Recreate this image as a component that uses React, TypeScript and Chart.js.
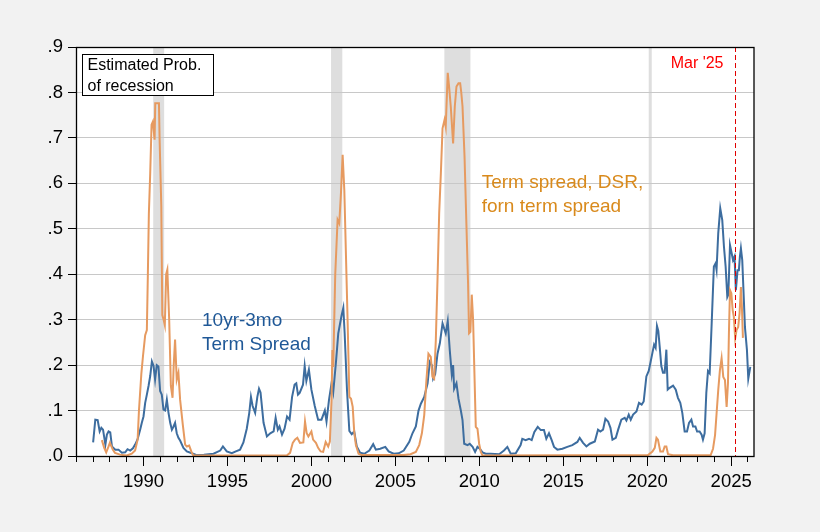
import React, { useEffect, useRef } from "react";
import { Chart, registerables } from "chart.js";

Chart.register(...registerables);

// ---- data (decimal years, probabilities) ----
const spreadYears = [1987.0,1987.13,1987.27,1987.39,1987.49,1987.59,1987.73,1987.82,1987.92,1988.02,1988.12,1988.32,1988.51,1988.71,1988.91,1989.05,1989.21,1989.37,1989.5,1989.64,1989.8,1989.9,1990.0,1990.1,1990.2,1990.3,1990.4,1990.5,1990.6,1990.69,1990.79,1990.89,1990.99,1991.09,1991.19,1991.29,1991.39,1991.49,1991.59,1991.69,1991.79,1991.88,1991.98,1992.08,1992.18,1992.38,1992.58,1992.88,1993.17,1993.6,1994.17,1994.57,1994.73,1994.96,1995.26,1995.5,1995.75,1995.95,1996.15,1996.3,1996.4,1996.5,1996.65,1996.78,1996.88,1996.97,1997.15,1997.35,1997.55,1997.75,1997.87,1998.0,1998.1,1998.25,1998.4,1998.55,1998.7,1998.85,1999.0,1999.1,1999.2,1999.3,1999.5,1999.6,1999.7,1999.85,2000.0,2000.2,2000.4,2000.6,2000.8,2000.9,2001.05,2001.2,2001.3,2001.47,2001.6,2001.7,2001.8,2001.9,2001.98,2002.12,2002.26,2002.4,2002.55,2002.7,2002.9,2003.15,2003.45,2003.68,2003.84,2004.1,2004.4,2004.6,2004.9,2005.2,2005.5,2005.83,2006.02,2006.22,2006.38,2006.52,2006.72,2006.92,2007.05,2007.17,2007.25,2007.37,2007.51,2007.65,2007.81,2007.91,2008.0,2008.12,2008.24,2008.36,2008.44,2008.5,2008.64,2008.76,2008.9,2009.0,2009.1,2009.3,2009.43,2009.6,2009.75,2009.89,2010.03,2010.19,2010.38,2010.68,2011.18,2011.47,2011.67,2011.87,2012.17,2012.46,2012.56,2012.76,2012.96,2013.12,2013.28,2013.48,2013.66,2013.85,2013.99,2014.15,2014.31,2014.45,2014.65,2014.95,2015.24,2015.54,2015.84,2015.98,2016.18,2016.38,2016.58,2016.88,2017.07,2017.21,2017.37,2017.51,2017.67,2017.81,2017.93,2018.13,2018.27,2018.46,2018.66,2018.76,2018.9,2019.02,2019.16,2019.36,2019.51,2019.67,2019.79,2019.95,2020.09,2020.19,2020.31,2020.41,2020.5,2020.58,2020.66,2020.74,2020.84,2020.94,2021.04,2021.14,2021.22,2021.34,2021.54,2021.7,2021.83,2021.97,2022.09,2022.23,2022.37,2022.49,2022.63,2022.73,2022.87,2022.97,2023.12,2023.24,2023.32,2023.42,2023.52,2023.62,2023.72,2023.84,2023.97,2024.07,2024.13,2024.23,2024.35,2024.47,2024.57,2024.67,2024.77,2024.83,2024.93,2025.03,2025.11,2025.2,2025.28,2025.38,2025.46,2025.52,2025.58,2025.66,2025.74,2025.82,2025.94,2026.02,2026.14];
const spreadProb = [0.03,0.08,0.079,0.054,0.062,0.058,0.025,0.047,0.054,0.052,0.021,0.014,0.014,0.007,0.008,0.015,0.012,0.017,0.025,0.036,0.058,0.073,0.087,0.117,0.135,0.154,0.176,0.208,0.198,0.168,0.2,0.197,0.143,0.135,0.102,0.1,0.124,0.095,0.073,0.058,0.065,0.073,0.05,0.04,0.034,0.018,0.01,0.006,0.002,0.003,0.005,0.012,0.021,0.01,0.006,0.01,0.014,0.03,0.06,0.095,0.13,0.11,0.095,0.13,0.148,0.14,0.073,0.043,0.05,0.054,0.084,0.058,0.065,0.047,0.06,0.087,0.08,0.13,0.157,0.16,0.135,0.139,0.157,0.198,0.165,0.19,0.146,0.11,0.08,0.08,0.1,0.076,0.124,0.16,0.14,0.21,0.27,0.29,0.31,0.326,0.27,0.145,0.055,0.048,0.054,0.021,0.007,0.005,0.012,0.026,0.014,0.016,0.02,0.01,0.005,0.006,0.012,0.031,0.05,0.065,0.1,0.115,0.13,0.16,0.207,0.2,0.17,0.18,0.225,0.248,0.292,0.28,0.27,0.297,0.233,0.18,0.2,0.148,0.16,0.126,0.1,0.079,0.027,0.024,0.027,0.02,0.009,0.02,0.016,0.008,0.005,0.005,0.004,0.012,0.02,0.005,0.006,0.024,0.038,0.035,0.038,0.035,0.053,0.064,0.057,0.057,0.038,0.05,0.035,0.02,0.014,0.016,0.02,0.024,0.031,0.04,0.029,0.021,0.027,0.032,0.058,0.054,0.058,0.082,0.076,0.062,0.036,0.04,0.058,0.08,0.084,0.078,0.091,0.08,0.091,0.098,0.117,0.113,0.12,0.175,0.187,0.205,0.227,0.245,0.238,0.286,0.275,0.242,0.198,0.183,0.183,0.234,0.146,0.15,0.155,0.146,0.128,0.117,0.095,0.054,0.054,0.073,0.08,0.065,0.065,0.054,0.054,0.047,0.036,0.05,0.139,0.187,0.182,0.292,0.417,0.424,0.41,0.49,0.545,0.519,0.461,0.417,0.35,0.355,0.464,0.446,0.431,0.439,0.365,0.409,0.409,0.439,0.457,0.431,0.358,0.284,0.233,0.17,0.196];

const dsrYears = [1987.52,1987.66,1987.78,1987.92,1988.0,1988.17,1988.3,1988.6,1989.0,1989.3,1989.5,1989.65,1989.73,1989.87,1989.97,1990.1,1990.2,1990.26,1990.32,1990.4,1990.48,1990.56,1990.66,1990.7,1990.92,1990.96,1991.06,1991.12,1991.2,1991.27,1991.35,1991.42,1991.53,1991.63,1991.73,1991.8,1991.88,1991.98,1992.08,1992.18,1992.34,1992.48,1992.58,1992.72,1992.88,1992.97,1998.53,1998.73,1998.89,1999.02,1999.16,1999.32,1999.52,1999.62,1999.72,1999.82,2000.0,2000.1,2000.27,2000.4,2000.55,2000.7,2000.85,2001.0,2001.1,2001.2,2001.25,2001.3,2001.42,2001.56,2001.66,2001.76,2001.86,2001.96,2002.06,2002.16,2002.26,2002.36,2002.46,2002.55,2002.65,2002.81,2003.0,2005.5,2005.9,2006.22,2006.42,2006.58,2006.72,2006.85,2006.97,2007.11,2007.21,2007.31,2007.41,2007.51,2007.61,2007.71,2007.81,2007.93,2008.0,2008.12,2008.2,2008.3,2008.44,2008.54,2008.64,2008.76,2008.86,2008.92,2009.0,2009.12,2009.23,2009.33,2009.39,2009.47,2009.55,2009.63,2009.71,2009.79,2009.89,2009.99,2010.09,2010.19,2020.05,2020.31,2020.45,2020.55,2020.64,2020.78,2020.94,2021.04,2021.14,2021.24,2021.54,2023.78,2023.92,2024.04,2024.13,2024.23,2024.33,2024.43,2024.53,2024.63,2024.73,2024.81,2024.87,2024.93,2025.01,2025.09,2025.16,2025.24,2025.32,2025.42,2025.5,2025.58,2025.64,2025.7];
const dsrProb = [0.035,0.018,0.008,0.021,0.029,0.014,0.007,0.003,0.001,0.005,0.012,0.036,0.1,0.18,0.22,0.266,0.277,0.4,0.534,0.622,0.729,0.736,0.696,0.776,0.776,0.696,0.55,0.31,0.3,0.288,0.4,0.41,0.3,0.154,0.128,0.2,0.256,0.168,0.183,0.124,0.069,0.025,0.021,0.023,0.007,0.001,0.001,0.007,0.029,0.036,0.04,0.029,0.03,0.076,0.05,0.043,0.054,0.036,0.029,0.018,0.01,0.009,0.031,0.021,0.032,0.124,0.233,0.196,0.4,0.52,0.512,0.578,0.663,0.585,0.439,0.292,0.13,0.126,0.108,0.053,0.024,0.005,0.002,0.002,0.004,0.009,0.024,0.05,0.09,0.167,0.225,0.218,0.174,0.17,0.255,0.387,0.534,0.622,0.721,0.74,0.725,0.843,0.813,0.769,0.688,0.769,0.813,0.82,0.82,0.802,0.769,0.659,0.512,0.38,0.27,0.273,0.355,0.3,0.181,0.064,0.06,0.027,0.009,0.001,0.002,0.01,0.018,0.04,0.036,0.01,0.01,0.021,0.021,0.004,0.0015,0.002,0.016,0.046,0.093,0.145,0.189,0.215,0.174,0.167,0.108,0.16,0.277,0.365,0.358,0.321,0.306,0.259,0.277,0.284,0.314,0.372,0.328,0.26];

const recessionStarts = [1990.58, 2001.17, 2007.92, 2020.09];
const recessionEnds = [1991.23, 2001.84, 2009.47, 2020.27];

const yearTicks = [1986,1987,1988,1989,1990,1991,1992,1993,1994,1995,1996,1997,1998,1999,2000,2001,2002,2003,2004,2005,2006,2007,2008,2009,2010,2011,2012,2013,2014,2015,2016,2017,2018,2019,2020,2021,2022,2023,2024,2025,2026];
const probTicks = [0,0.1,0.2,0.3,0.4,0.5,0.6,0.7,0.8,0.9];
const markerYear = 2025.21;

const FONT = "'Liberation Sans', Arial, sans-serif";
const BLUE = "#3d6d9f";
const ORANGE = "#e69a60";

const decor = {
  id: "decor",
  beforeDraw(chart: any) {
    const { ctx, chartArea: a, scales } = chart;
    ctx.save();
    ctx.fillStyle = "#f2f2f2";
    ctx.fillRect(0, 0, chart.width, chart.height);
    ctx.fillStyle = "#ffffff";
    ctx.fillRect(a.left, a.top, a.right - a.left, a.bottom - a.top);
    ctx.fillStyle = "#dedede";
    recessionStarts.forEach((s, i) => {
      const x1 = scales.x.getPixelForValue(s);
      const x2 = scales.x.getPixelForValue(recessionEnds[i]);
      ctx.fillRect(x1, a.top, x2 - x1, a.bottom - a.top);
    });
    ctx.restore();
  },
  afterDraw(chart: any) {
    const { ctx, chartArea: a, scales } = chart;
    ctx.save();
    // marker line
    const mx = Math.round(scales.x.getPixelForValue(markerYear)) + 0.5;
    ctx.strokeStyle = "#e00000";
    ctx.lineWidth = 1;
    ctx.setLineDash([5, 3]);
    ctx.beginPath();
    ctx.moveTo(mx, a.top);
    ctx.lineTo(mx, a.bottom);
    ctx.stroke();
    ctx.setLineDash([]);
    // frame
    ctx.strokeStyle = "#000";
    ctx.lineWidth = 1.3;
    ctx.strokeRect(a.left + 0.5, a.top + 0.5, a.right - a.left - 0.5, a.bottom - a.top);
    // major ticks
    ctx.lineWidth = 1;
    yearTicks.forEach((y) => {
      if (y % 5 === 0) {
        const px = Math.round(scales.x.getPixelForValue(y)) + 0.5;
        ctx.beginPath();
        ctx.moveTo(px, a.bottom);
        ctx.lineTo(px, a.bottom + 10);
        ctx.stroke();
      }
    });
    // legend box
    ctx.fillStyle = "#fff";
    ctx.fillRect(a.left + 6, a.top + 7, 132, 42);
    ctx.strokeRect(a.left + 6.5, a.top + 7.5, 131, 41);
    ctx.fillStyle = "#000";
    ctx.font = `16px ${FONT}`;
    ctx.textAlign = "left";
    ctx.textBaseline = "alphabetic";
    ctx.fillText("Estimated Prob.", a.left + 11.5, a.top + 23);
    ctx.fillText("of recession", a.left + 11.5, a.top + 43.5);
    // Mar '25
    ctx.fillStyle = "#ff0000";
    ctx.textAlign = "right";
    ctx.fillText("Mar '25", mx - 12, a.top + 21);
    // series labels
    ctx.textAlign = "left";
    ctx.font = `19px ${FONT}`;
    ctx.fillStyle = "#d98a1c";
    ctx.fillText("Term spread, DSR,", 481.7, 188.3);
    ctx.fillText("forn term spread", 481.7, 212);
    ctx.fillStyle = "#1f5897";
    ctx.fillText("10yr-3mo", 202, 326);
    ctx.fillText("Term Spread", 202, 350);
    ctx.restore();
  },
};

export default function App() {
  const ref = useRef<HTMLCanvasElement>(null);
  useEffect(() => {
    const canvas = ref.current;
    if (!canvas) return;
    const chart = new Chart(canvas, {
      type: "line",
      data: {
        datasets: [
          {
            label: "Term spread, DSR, forn term spread",
            data: dsrYears.map((x, i) => ({ x, y: dsrProb[i] })),
            borderColor: ORANGE,
            borderWidth: 2,
            pointRadius: 0,
            tension: 0,
            fill: false,
          },
          {
            label: "10yr-3mo Term Spread",
            data: spreadYears.map((x, i) => ({ x, y: spreadProb[i] })),
            borderColor: BLUE,
            borderWidth: 2,
            pointRadius: 0,
            tension: 0,
            fill: false,
          },
        ],
      },
      options: {
        animation: false,
        responsive: false,
        devicePixelRatio: 1,
        layout: { padding: { left: 0, top: 47, right: 66, bottom: 0 } },
        plugins: { legend: { display: false }, tooltip: { enabled: false } },
        scales: {
          x: {
            type: "linear",
            min: 1985.98,
            max: 2026.36,
            afterBuildTicks: (scale: any) => {
              scale.ticks = yearTicks.map((v) => ({ value: v }));
            },
            afterFit: (scale: any) => {
              scale.height = 76;
            },
            border: { display: false },
            grid: { drawOnChartArea: false, drawTicks: true, tickLength: 6, tickColor: "#000" },
            ticks: {
              autoSkip: false,
              maxRotation: 0,
              padding: 9,
              color: "#000",
              font: { family: FONT, size: 18.5 },
              callback: (v: any) => (Number(v) % 5 === 0 ? String(v) : ""),
            },
          },
          y: {
            type: "linear",
            min: 0,
            max: 0.9,
            afterBuildTicks: (scale: any) => {
              scale.ticks = probTicks.map((v) => ({ value: v }));
            },
            afterFit: (scale: any) => {
              scale.width = 76;
            },
            border: { display: false },
            grid: {
              color: (c: any) => (c.tick && (c.tick.value === 0 || c.tick.value === 0.9) ? "rgba(0,0,0,0)" : "#c8c8c8"),
              lineWidth: 1,
              tickLength: 8,
              tickColor: "#000",
            },
            ticks: {
              padding: 5,
              color: "#000",
              font: { family: FONT, size: 18.5 },
              callback: (v: any) => "." + Math.round(Number(v) * 10),
            },
          },
        },
      },
      plugins: [decor],
    });
    return () => chart.destroy();
  }, []);
  return (
    <div style={{ position: "fixed", left: 0, top: 0, width: 820, height: 532, background: "#f2f2f2" }}>
      <canvas ref={ref} width={820} height={532} style={{ display: "block" }} />
    </div>
  );
}
